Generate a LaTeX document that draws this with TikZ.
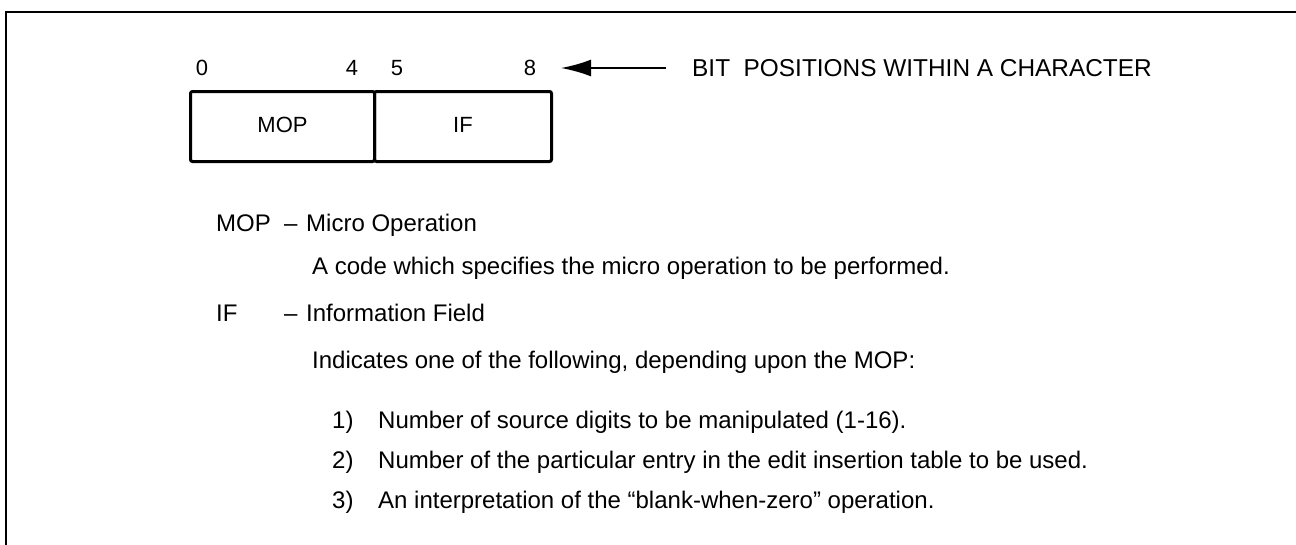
\documentclass[tikz,border=0pt]{standalone}
\usepackage{fontspec}
\setmainfont{Liberation Sans}
\usetikzlibrary{arrows.meta}
\tikzset{
  frame/.style={line width=2.2pt},
  fieldbox/.style={draw, line width=3pt, rounded corners=2pt, minimum height=70pt, inner sep=0pt},
  digit/.style={font=\fontsize{22}{26}\selectfont, inner sep=0pt},
  head/.style={font=\fontsize{24.4}{28}\selectfont, inner sep=0pt, anchor=west},
  lbl/.style={font=\fontsize{22}{26}\selectfont, inner sep=0pt},
  txt/.style={font=\fontsize{24}{28}\selectfont, inner sep=0pt, anchor=base west},
  pointer/.style={line width=2pt, -{Latex[length=30pt,width=17pt]}}
}
\begin{document}
\begin{tikzpicture}[x=1pt,y=-1pt]
\useasboundingbox (0,0) rectangle (1296,544);
% open frame along the top and left
\draw[frame] (1300,12) -- (6,12) -- (6,548);
% character layout: two fields
\node[fieldbox, minimum width=184pt, anchor=north west] (mop) at (189,90) {};
\node[fieldbox, minimum width=177pt, anchor=north west] (if) at (373,90) {};
\node[lbl] (mopl) at ([yshift=2pt]mop.center) {MOP};
\node[lbl] (ifl) at ([yshift=2pt]if.center) {IF};
% bit positions
\node[digit] (d0) at (202,68) {0};
\node[digit] (d4) at (352,68) {4};
\node[digit] (d5) at (397,68) {5};
\node[digit] (d8) at (530,68) {8};
\node[head] (bits) at (692,68) {BIT\ \ POSITIONS WITHIN A CHARACTER};
\draw[pointer, shorten >=31pt, shorten <=26pt] (bits.west) -- (d8.center);
% descriptions
\node[txt] (mopk) at (216,231) {MOP};
\node[txt] (mopdash) at (284,231) {--};
\node[txt] (mopd) at (306,231) {Micro Operation};
\node[txt] (mopt) at (312,274) {A code which specifies the micro operation to be performed.};
\node[txt] (ifk) at (216,321) {IF};
\node[txt] (ifdash) at (284,321) {--};
\node[txt] (ifd) at (306,321) {Information Field};
\node[txt] (ift) at (312,368) {Indicates one of the following, depending upon the MOP:};
\node[txt] (n1) at (332,428) {1)};
\node[txt] (t1) at (378,428) {Number of source digits to be manipulated (1-16).};
\node[txt] (n2) at (332,468) {2)};
\node[txt] (t2) at (378,468) {Number of the particular entry in the edit insertion table to be used.};
\node[txt] (n3) at (332,508) {3)};
\node[txt] (t3) at (378,508) {An interpretation of the ``blank-when-zero'' operation.};
\end{tikzpicture}
\end{document}
